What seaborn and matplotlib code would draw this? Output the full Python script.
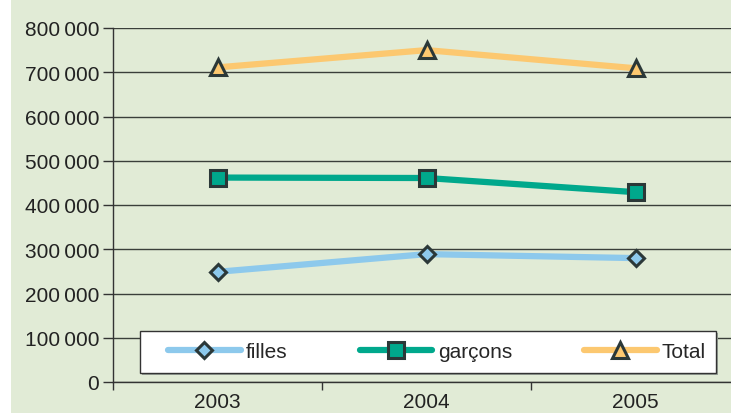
import matplotlib
matplotlib.use("Agg")
import matplotlib.pyplot as plt
import seaborn as sns
import pandas as pd
from matplotlib.patches import Rectangle
from matplotlib.ticker import FuncFormatter

annees = ["2003", "2004", "2005"]
filles = [249000, 289000, 280000]
garcons = [462000, 461000, 429000]
total = [f + g for f, g in zip(filles, garcons)]

series = ["filles", "garçons", "Total"]
couleurs = {"filles": "#8dc9ec", "garçons": "#00a88c", "Total": "#fcc870"}
marqueurs = {"filles": "D", "garçons": "s", "Total": "^"}
tailles = {"filles": 8.5, "garçons": 12, "Total": 11.5}

df = pd.DataFrame({
    "annee": annees * 3,
    "x": [0, 1, 2] * 3,
    "valeur": filles + garcons + total,
    "serie": ["filles"] * 3 + ["garçons"] * 3 + ["Total"] * 3,
})

sns.set_style("white")
plt.rcParams["font.family"] = ["Liberation Sans", "DejaVu Sans"]

bg = "#e1ebd6"
edge = "#2b3838"

fig = plt.figure(figsize=(7.31, 4.14), dpi=100, facecolor="white")
fig.patches.append(Rectangle((11 / 731, 0), 1, 1, transform=fig.transFigure,
                             facecolor=bg, edgecolor="none", zorder=-10))
ax = fig.add_axes([113 / 731, 31 / 414, 627 / 731, 354 / 414])
ax.set_facecolor(bg)

for s in series:
    d = df[df["serie"] == s]
    sns.lineplot(data=d, x="x", y="valeur", ax=ax, color=couleurs[s], lw=4.5,
                 marker=marqueurs[s], markersize=tailles[s], markerfacecolor=couleurs[s],
                 markeredgecolor=edge, markeredgewidth=2.2, label=s, zorder=3)

ax.set_xlim(-0.5, 2.5)
ax.set_ylim(0, 800000)
ax.set_yticks(range(0, 800001, 100000))
ax.yaxis.set_major_formatter(FuncFormatter(
    lambda v, p: "0" if v == 0 else f"{int(v):,}".replace(",", "\u2009")))
ax.grid(axis="y", color="#3a3f3a", lw=1.0, zorder=1)
ax.set_axisbelow(True)

ax.set_xticks([-0.5, 0.5, 1.5, 2.5])
ax.set_xticklabels([])
ax.set_xticks([0, 1, 2], minor=True)
ax.set_xticklabels(annees, minor=True)
ax.tick_params(axis="x", which="major", length=6, width=1, color="#333333", direction="out")
ax.tick_params(axis="x", which="minor", length=0, labelsize=15, labelcolor="#222222", pad=7)
ax.tick_params(axis="y", length=7, width=1, color="#333333", direction="out",
               labelsize=15, labelcolor="#222222", pad=3)
ax.tick_params(left=True, bottom=True)
ax.set_xlabel("")
ax.set_ylabel("")

for sp in ["top", "right"]:
    ax.spines[sp].set_visible(False)
for sp in ["left", "bottom"]:
    ax.spines[sp].set_color("#333333")
    ax.spines[sp].set_linewidth(1.0)

# cadre de la légende
ombre = Rectangle((142 / 731, 38 / 414), 576 / 731, 42 / 414, transform=fig.transFigure,
                  facecolor="#9aa39a", edgecolor="none", zorder=4, clip_on=False)
cadre = Rectangle((140 / 731, 40 / 414), 576 / 731, 42 / 414, transform=fig.transFigure,
                  facecolor="white", edgecolor="#333333", lw=1.0, zorder=4.5, clip_on=False)
ax.add_patch(ombre)
ax.add_patch(cadre)

leg = ax.legend(loc="center left", bbox_to_anchor=(168 / 731, 40 / 414, 538 / 731, 42 / 414),
                bbox_transform=fig.transFigure, mode="expand", ncol=3, borderaxespad=0,
                fontsize=15, handlelength=3.5, handletextpad=0.25, frameon=False,
                borderpad=0)
leg.set_zorder(5)

fig.savefig("out.png", dpi=100, facecolor="white")
